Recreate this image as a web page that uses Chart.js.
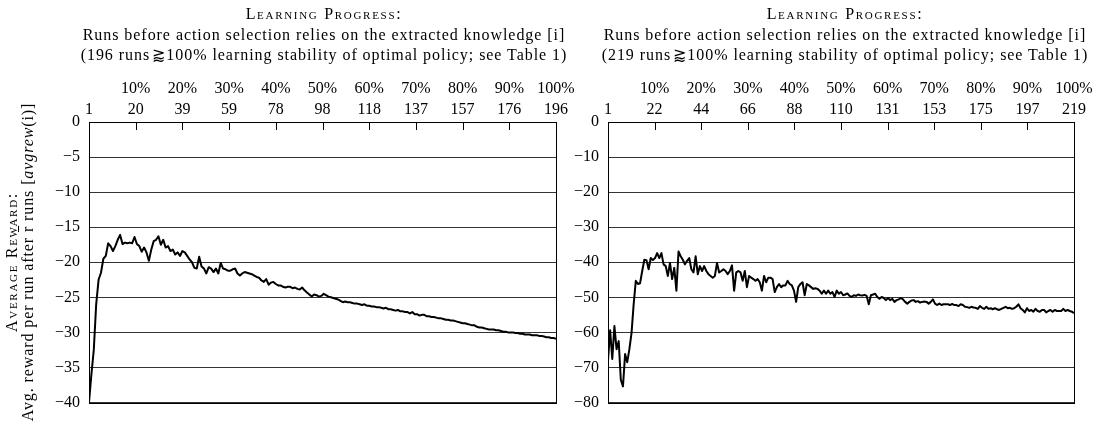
<!DOCTYPE html>
<html><head><meta charset="utf-8">
<script src="https://cdn.jsdelivr.net/npm/chart.js@4.4.0/dist/chart.umd.min.js"></script>
<style>
html,body{margin:0;padding:0;background:#fff;}
body{width:1105px;height:422px;position:relative;overflow:hidden;font-family:"Liberation Serif",serif;color:#000;}
.title{position:absolute;top:4px;text-align:center;font-size:16px;line-height:20.5px;white-space:nowrap;letter-spacing:0.95px;}
.sc{font-variant:small-caps;letter-spacing:1.7px;}
canvas{position:absolute;top:0;}
#ytitle{position:absolute;width:360px;height:32px;left:-160px;top:246px;transform:rotate(-90deg);text-align:center;font-size:16px;line-height:16px;white-space:nowrap;letter-spacing:0.9px;}
</style></head>
<body>
<canvas id="c1" width="600" height="422" style="left:0"></canvas>
<canvas id="c2" width="585" height="422" style="left:520px"></canvas>
<div class="title" style="left:24px;width:600px"><span class="sc">Learning Progress:</span><br>Runs before action selection relies on the extracted knowledge [i]<br>(196 runs&#8202;&#x2A86;100% learning stability of optimal policy; see Table 1)</div>
<div class="title" style="left:545px;width:600px"><span class="sc">Learning Progress:</span><br>Runs before action selection relies on the extracted knowledge [i]<br>(219 runs&#8202;&#x2A86;100% learning stability of optimal policy; see Table 1)</div>
<div id="ytitle"><span class="sc">Average Reward:</span><br>Avg. reward per run after <span style="text-decoration:overline">r</span> runs [<i>avgrew</i>(i)]</div>
<script>
const pctTicks = ['', '10%', '20%', '30%', '40%', '50%', '60%', '70%', '80%', '90%', '100%'];
const leftRunTicks = ['1', '20', '39', '59', '78', '98', '118', '137', '157', '176', '196'];
const rightRunTicks = ['1', '22', '44', '66', '88', '110', '131', '153', '175', '197', '219'];

const leftValues = [
-40,-36,-32.5,-26,-22.5,-21.5,-19.5,-19.1,-17.3,-17.7,
-18.4,-17.7,-16.8,-16.1,-17.4,-17.2,-17.3,-17.2,-17.3,-16.4,
-17.4,-17.7,-18.5,-17.9,-18.6,-19.8,-18.2,-17.0,-16.8,-16.3,
-17.5,-16.8,-17.9,-17.7,-18.4,-18.2,-18.9,-18.6,-19.1,-18.4,
-18.6,-19.1,-19.6,-20.0,-20.8,-20.9,-19.2,-20.6,-20.9,-21.6,
-20.7,-20.9,-21.4,-20.9,-21.6,-20.1,-20.9,-21.0,-21.2,-21.2,
-21.0,-20.9,-21.6,-21.9,-21.6,-21.4,-21.5,-21.6,-21.7,-21.9,
-22.1,-22.2,-22.6,-22.8,-22.4,-23.2,-22.9,-22.8,-23.1,-23.3,
-23.3,-23.5,-23.6,-23.5,-23.5,-23.7,-23.6,-23.8,-23.9,-23.6,
-24.0,-24.3,-24.6,-24.9,-24.6,-24.7,-24.9,-24.8,-24.5,-24.7,
-24.9,-25.0,-25.1,-25.2,-25.3,-25.5,-25.7,-25.6,-25.7,-25.7,
-25.8,-25.9,-25.9,-26.0,-26.1,-26.0,-26.2,-26.2,-26.3,-26.3,
-26.4,-26.4,-26.5,-26.6,-26.5,-26.7,-26.7,-26.8,-26.9,-26.8,
-27.0,-27.0,-27.1,-27.1,-27.3,-27.1,-27.4,-27.4,-27.6,-27.5,
-27.5,-27.7,-27.7,-27.8,-27.8,-27.9,-28.0,-28.0,-28.1,-28.2,
-28.2,-28.3,-28.3,-28.4,-28.5,-28.6,-28.7,-28.7,-28.8,-28.9,
-29.0,-29.0,-29.2,-29.3,-29.3,-29.4,-29.5,-29.6,-29.6,-29.6,
-29.7,-29.7,-29.8,-29.9,-29.9,-30.0,-30.0,-30.0,-30.1,-30.1,
-30.2,-30.2,-30.3,-30.3,-30.3,-30.4,-30.4,-30.4,-30.5,-30.5,
-30.6,-30.7,-30.7,-30.8,-30.8,-30.9
];

const rightValues = [
-68.0,-59.4,-67.6,-58.2,-64.8,-62.5,-73.5,-75.4,-66.2,-68.5,
-64.8,-60.2,-52.0,-45.3,-46.2,-46.0,-42.5,-39.3,-39.4,-42.0,
-38.8,-39.4,-38.8,-37.4,-38.8,-37.4,-40.6,-41.1,-43.9,-40.2,
-44.8,-41.6,-48.1,-36.9,-38.3,-39.3,-40.6,-39.6,-38.8,-42.0,
-42.9,-38.3,-43.4,-41.1,-42.5,-41.1,-42.5,-43.4,-43.9,-44.4,
-43.9,-40.2,-42.9,-42.5,-42.0,-42.5,-43.4,-42.5,-40.9,-48.1,
-42.9,-42.5,-42.9,-45.3,-42.5,-47.1,-43.9,-44.4,-44.8,-45.3,
-44.8,-45.7,-48.1,-43.9,-45.7,-44.4,-44.4,-44.8,-48.5,-47.1,
-46.2,-47.1,-46.6,-46.6,-45.3,-46.2,-46.6,-48.1,-51.3,-47.1,
-46.2,-45.7,-49.4,-46.2,-46.6,-47.1,-47.6,-47.4,-47.6,-48.1,
-49.0,-48.1,-49.0,-48.1,-49.0,-48.5,-49.9,-48.1,-49.0,-48.5,
-49.4,-49.2,-48.9,-49.6,-49.9,-49.4,-49.6,-49.2,-49.4,-49.5,
-49.3,-49.6,-52.0,-49.4,-49.2,-49.0,-49.9,-50.4,-49.9,-50.2,
-50.8,-50.2,-50.8,-50.4,-51.3,-50.8,-50.6,-50.2,-50.6,-51.3,
-51.8,-51.3,-50.9,-50.8,-51.3,-51.1,-51.5,-51.3,-51.2,-51.3,
-51.8,-51.3,-50.6,-51.8,-52.2,-51.8,-52.2,-52.0,-52.0,-52.0,
-52.2,-51.9,-52.2,-52.2,-52.5,-52.0,-52.2,-52.7,-52.8,-53.0,
-52.7,-52.9,-53.0,-53.3,-52.5,-53.0,-53.3,-52.7,-53.3,-53.1,
-53.4,-53.1,-53.4,-53.6,-53.3,-53.0,-52.7,-53.1,-53.0,-53.3,
-53.1,-52.7,-52.0,-53.1,-53.6,-54.3,-53.1,-53.9,-53.6,-54.1,
-53.3,-53.9,-54.1,-53.6,-53.6,-54.3,-53.9,-53.6,-54.1,-53.6,
-53.9,-53.9,-53.9,-53.3,-53.9,-53.6,-53.9,-54.1,-54.5
];

const FONT = {family: '"Liberation Serif", serif', size: 16, lineHeight: 1.3125};

const framePlugin = {
  id: 'frame',
  afterDraw(chart) {
    const {ctx, chartArea: a} = chart;
    const x = chart.scales.x;
    ctx.save();
    ctx.strokeStyle = '#000';
    ctx.lineWidth = 1;
    ctx.strokeRect(Math.round(a.left) + 0.5, Math.round(a.top) + 0.5,
                   Math.round(a.right - a.left), Math.round(a.bottom - a.top));
    ctx.beginPath();
    x.ticks.forEach(t => {
      const px = Math.round(x.getPixelForValue(t.value)) + 0.5;
      ctx.moveTo(px, a.top);
      ctx.lineTo(px, a.top + 8);
    });
    ctx.stroke();
    ctx.restore();
  }
};

function makeChart(id, values, runTicks, yMin, yStep, yWidth, padding) {
  const nRuns = values.length;
  const points = values.map((v, i) => ({x: i + 1, y: v}));
  return new Chart(document.getElementById(id), {
    type: 'line',
    data: {datasets: [{data: points, borderColor: '#000', borderWidth: 2, pointRadius: 0,
      tension: 0, fill: false, borderJoinStyle: 'round'}]},
    options: {
      responsive: false, animation: false, devicePixelRatio: 1,
      layout: {padding: padding},
      plugins: {legend: {display: false}, tooltip: {enabled: false}, title: {display: false}},
      events: [],
      scales: {
        x: {
          type: 'linear', position: 'top', min: 1, max: nRuns,
          grid: {display: false, drawTicks: false},
          border: {display: false},
          afterBuildTicks(scale) {
            scale.ticks = runTicks.map((_, k) => ({value: 1 + k * (nRuns - 1) / (runTicks.length - 1)}));
          },
          ticks: {
            autoSkip: false, maxRotation: 0, minRotation: 0, padding: 2,
            color: '#000', font: FONT,
            callback: (v, i) => [pctTicks[i], runTicks[i]]
          },
          afterFit(scale) { scale.height = 122; }
        },
        y: {
          min: yMin, max: 0,
          grid: {color: '#333', lineWidth: 1, drawTicks: false},
          border: {display: false},
          ticks: {
            stepSize: yStep, padding: 9, color: '#000', font: FONT,
            callback: v => (v === 0 ? '0' : '\u2212' + Math.abs(v))
          },
          afterFit(scale) { scale.width = yWidth; }
        }
      }
    },
    plugins: [framePlugin]
  });
}

makeChart('c1', leftValues, leftRunTicks, -40, 5, 89, {left: 0, top: 0, right: 44, bottom: 11});
makeChart('c2', rightValues, rightRunTicks, -80, 10, 88, {left: 0, top: 0, right: 31, bottom: 12});
</script>
</body></html>
